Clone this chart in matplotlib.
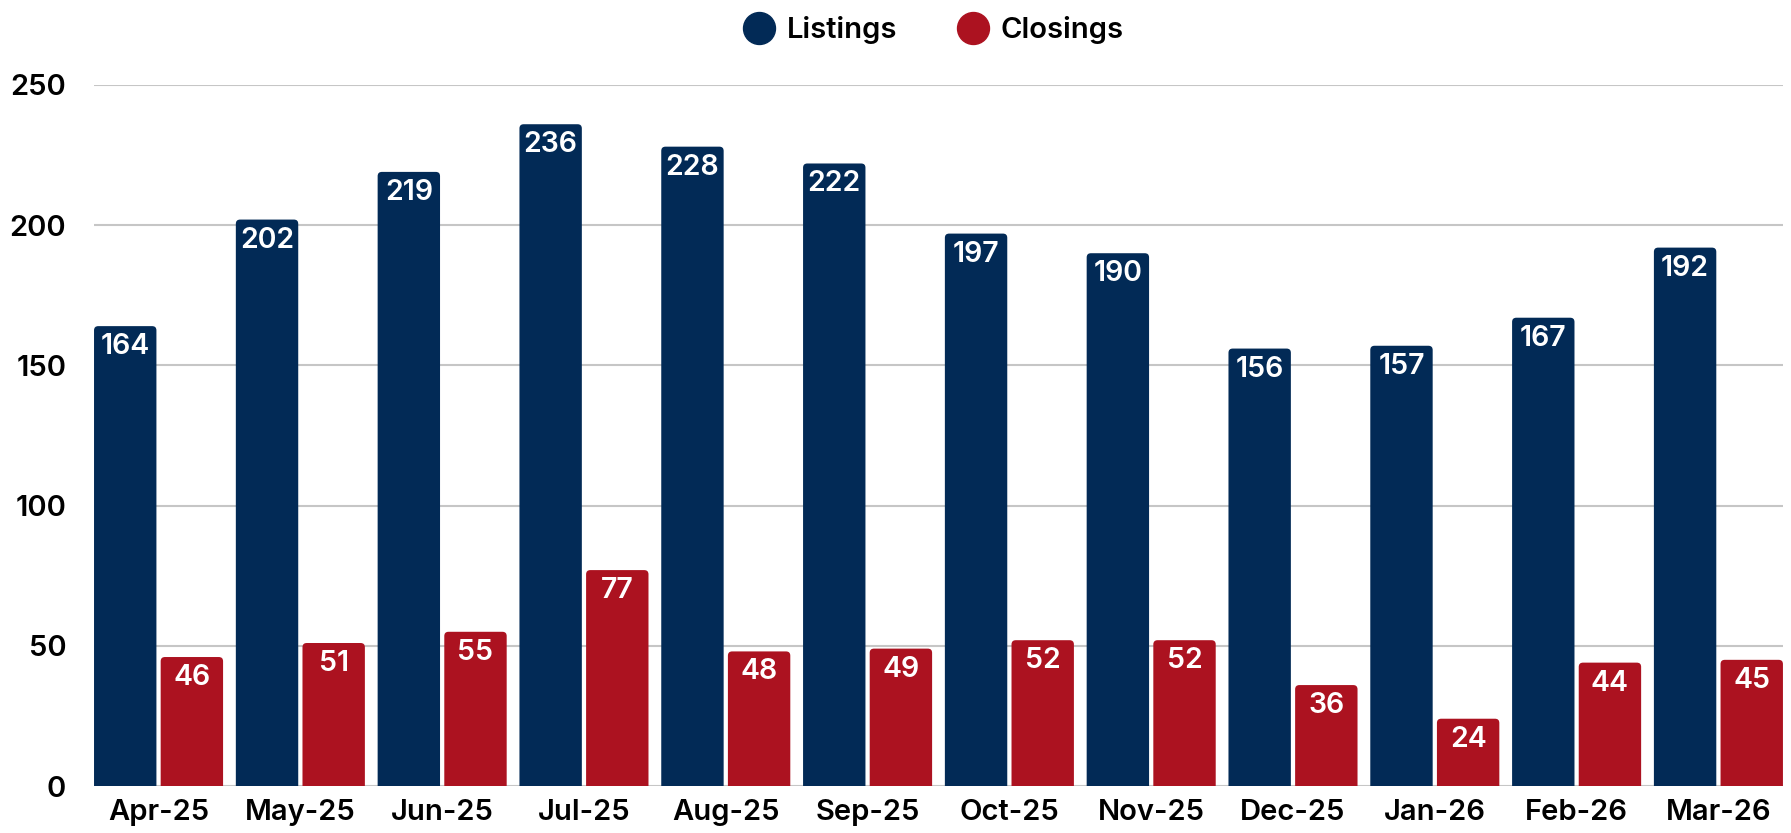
import matplotlib.pyplot as plt
from matplotlib.patches import FancyBboxPatch
import numpy as np

months = ["Apr-25", "May-25", "Jun-25", "Jul-25", "Aug-25", "Sep-25",
          "Oct-25", "Nov-25", "Dec-25", "Jan-26", "Feb-26", "Mar-26"]
listings = [164, 202, 219, 236, 228, 222, 197, 190, 156, 157, 167, 192]
closings = [46, 51, 55, 77, 48, 49, 52, 52, 36, 24, 44, 45]
y_ticks = [0, 50, 100, 150, 200, 250]

navy = "#022a56"
red = "#ac1220"

plt.rcParams['font.family'] = ['Inter', 'DejaVu Sans']
FW = "semibold"

fig = plt.figure(figsize=(17.91, 8.33), dpi=100)
ax = fig.add_axes([0.0525, 0.0564, 0.943, 0.8416])

x = np.arange(len(months))
w = 0.44
gap = 0.03
b1 = ax.bar(x - (w + gap) / 2, listings, w, color=navy, label="Listings", zorder=3)
b2 = ax.bar(x + (w + gap) / 2, closings, w, color=red, label="Closings", zorder=3)

# swap the plain bars for ones with rounded tops
r = 0.03
for bars, vals, c in ((b1, listings, navy), (b2, closings, red)):
	for bar, v in zip(bars, vals):
		bar.set_visible(False)
		p = FancyBboxPatch((bar.get_x() + r, -10 + r * 50), bar.get_width() - 2 * r, v + 10 - 2 * r * 50,
			boxstyle=f"round,pad={r},rounding_size={r}", mutation_aspect=50,
			facecolor=c, edgecolor="none", zorder=3, clip_on=True)
		ax.add_patch(p)
		ax.annotate(str(v), (bar.get_x() + bar.get_width() / 2, v),
			xytext=(0, -5), textcoords="offset points", ha="center", va="top",
			color="white", fontsize=20.5, fontweight=FW, zorder=4)

ax.set_xlim(-0.455, len(months) - 1 + 0.455)
ax.set_ylim(0, 250)
ax.set_yticks(y_ticks)
ax.set_xticks(x)
ax.set_xticklabels(months)
ax.tick_params(axis="both", length=0, labelsize=21)
ax.tick_params(axis="y", pad=20)
ax.tick_params(axis="x", pad=9)
for lab in ax.get_xticklabels() + ax.get_yticklabels():
	lab.set_fontweight(FW)

ax.yaxis.grid(True, color="#c6c6c6", linewidth=1.5, zorder=0)
ax.set_axisbelow(True)
for s in ax.spines.values():
	s.set_visible(False)

handles = [plt.Line2D([], [], marker="o", linestyle="", markersize=23, color=navy),
	plt.Line2D([], [], marker="o", linestyle="", markersize=23, color=red)]
fig.legend(handles, ["Listings", "Closings"], loc="upper center",
	bbox_to_anchor=(0.520, 1.012), ncol=2, frameon=False, handlelength=1.4,
	handletextpad=0.25, columnspacing=1.9, prop={"weight": FW, "size": 21})

fig.savefig("out.png", dpi=100)
